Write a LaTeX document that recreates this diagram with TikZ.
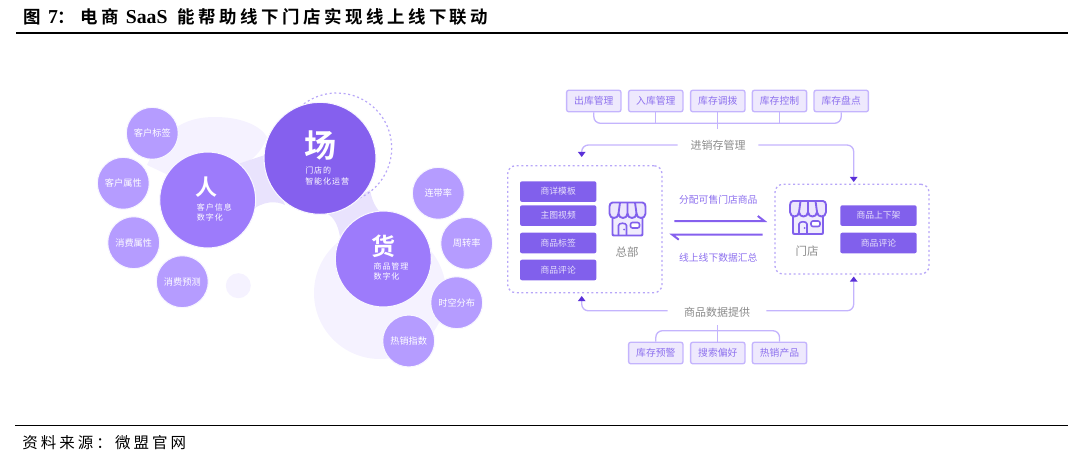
\documentclass[tikz,border=0pt]{standalone}
\usepackage{fontspec}
\setmainfont{Noto Sans CJK SC}
\newfontfamily\spc[LetterSpace=12]{Noto Sans CJK SC}
\newfontfamily\hd[LetterSpace=20]{Noto Sans CJK SC Bold}
\newfontfamily\gb{Noto Sans CJK SC Bold}
\newfontfamily\hl{Liberation Serif Bold}
\newfontfamily\ft[LetterSpace=20]{Noto Sans CJK SC}
\usetikzlibrary{arrows.meta}
\definecolor{pale}{HTML}{F5F2FF}
\definecolor{midpale}{HTML}{E9E3FD}
\definecolor{cA}{HTML}{8560EE}
\definecolor{cB}{HTML}{9D7BFB}
\definecolor{cC}{HTML}{B59CFF}
\definecolor{halo}{HTML}{F8F6FF}
\definecolor{bar}{HTML}{8160EC}
\definecolor{boxf}{HTML}{EEE9FD}
\definecolor{boxd}{HTML}{C4B4FD}
\definecolor{boxt}{HTML}{8D70EE}
\definecolor{tipc}{HTML}{5A30D8}
\definecolor{dots}{HTML}{B7A6F8}
\definecolor{greyt}{HTML}{8A8A8A}
\def\px{.75pt}
\tikzset{
  bigc/.style={circle,inner sep=0pt,minimum size=96*\px,fill=cB,draw=halo,line width=.8pt},
  smallc/.style={circle,inner sep=0pt,minimum size=52*\px,fill=cC,draw=halo,line width=.8pt,text=white,font=\fontsize{6.9pt}{8pt}\selectfont},
  sub/.style={anchor=west,inner sep=0pt,text=white,font=\fontsize{6pt}{7pt}\selectfont\spc},
  glyph/.style={inner sep=0pt,text=white},
  tagbox/.style={draw=boxd,fill=boxf,rounded corners=1.5pt,line width=1pt,inner sep=0pt,minimum width=54.3*\px,minimum height=21.4*\px,text=boxt,font=\fontsize{7.35pt}{9pt}\selectfont},
  barbox/.style={fill=bar,rounded corners=1.5pt,inner sep=0pt,minimum width=76.4*\px,minimum height=20.6*\px,text=white!80!bar,font=\fontsize{6.6pt}{8pt}\selectfont},
  dashbox/.style={draw=dots,dash pattern=on 1.5pt off 2pt,line width=1pt,rounded corners=6pt},
  link/.style={draw=boxd,line width=1pt,rounded corners=5pt},
  flow/.style={link,-{Triangle[color=tipc,length=3.8pt,width=5.5pt]}},
  harp/.style={draw=cA,line width=1.5pt,line join=miter},
  greylab/.style={text=greyt,inner sep=0pt,font=\fontsize{8.25pt}{10pt}\selectfont},
  purplab/.style={text=boxt,inner sep=0pt,font=\fontsize{7.35pt}{9pt}\selectfont},
  storeicon/.pic={
    \path[draw=bar,line width=1.4pt,line join=round,fill=white!88!bar]
      (3,15) -- (3,31) .. controls (3,33) and (3,33) .. (5,33) -- (31,33) .. controls (33,33) and (33,33) .. (33,31) -- (33,15);
    \path[draw=bar,line width=1.4pt,line join=round,fill=boxf!80!bar!50!white]
      (3,0) -- (33,0) .. controls (35,0) and (36,2) .. (36,4) -- (36,11)
      .. controls (36,17) and (27,17) .. (27,11)
      .. controls (27,17) and (18,17) .. (18,11)
      .. controls (18,17) and (9,17) .. (9,11)
      .. controls (9,17) and (0,17) .. (0,11)
      -- (0,4) .. controls (0,2) and (1,0) .. (3,0) -- cycle;
    \draw[bar,line width=1.4pt] (10.5,0) -- (9,11) (18,0) -- (18,11) (25.5,0) -- (27,11);
    \draw[bar,line width=1.2pt] (9,33) -- (9,23) .. controls (9,20) and (17,20) .. (17,23) -- (17,33);
    \draw[bar,line width=1.2pt,rounded corners=1.5pt,fill=white] (21,20) rectangle (30,25.5);
    \fill[bar] (14.5,27) circle (1);
  }
}
\begin{document}
\begin{tikzpicture}[x=.75pt,y=-.75pt]
\useasboundingbox (0,0) rectangle (1080,464);
% header and footer
\node[anchor=west,inner sep=0pt,font=\fontsize{13.1pt}{15pt}\selectfont] (title) at (23,17)
 {{\hd 图}\hspace{5.5pt}{\hl\fontsize{14.8pt}{15pt}\selectfont 7}{\hd ：}\hspace{4pt}{\hd 电商}\hspace{5pt}{\hl\fontsize{14.8pt}{15pt}\selectfont SaaS}\hspace{7.5pt}{\hd 能帮助线下门店实现线上线下联动}};
\coordinate (hl1) at (16,33); \coordinate (hl2) at (1068,33);
\draw[line width=1.1pt] (hl1) -- (hl2);
\coordinate (fl1) at (15,425.7); \coordinate (fl2) at (1068,425.7);
\draw[line width=1.1pt] (fl1) -- (fl2);
\node[anchor=west,inner sep=0pt,font=\fontsize{11.6pt}{13pt}\selectfont\ft] (source) at (22,442.7) {资料来源：微盟官网};

% pale backdrop
\fill[pale] (147,165) .. controls (165,125) and (190,117) .. (215,117) .. controls (240,117) and (260,125) .. (267,137) .. controls (262,152) and (250,163) .. (240,165) -- (200,190) -- cycle;
\fill[pale] (380,293) circle (66);
\fill[pale] (238.3,285.7) circle (12.5);
\fill[midpale] (240,163.3) -- (265,155) -- (285,205) .. controls (277,201) and (263,200) .. (250,212) -- cycle;
\fill[midpale] (326.7,213.3) .. controls (335,218) and (338,226) .. (340,236.7) -- (383,215) .. controls (375,208) and (372,200) .. (370,190) -- cycle;
\draw[dots,line width=.9pt,dash pattern=on 1.5pt off 2pt] (336.7,148) circle (55);

% big circles
\node[bigc] (ren) at (207.7,200) {};
\node[bigc,minimum size=112*\px,fill=cA] (chang) at (320,158.3) {};
\node[bigc] (huo) at (383.3,259) {};
\node[glyph,font=\fontsize{16.5pt}{18pt}\selectfont\gb] (renT) at (206.7,187) {人};
\node[sub] (renA) at (196.7,207) {客户信息};
\node[sub] (renB) at (196.7,217.7) {数字化};
\node[glyph,font=\fontsize{24pt}{26pt}\selectfont\gb] (changT) at (320.7,145.7) {场};
\node[sub] (changA) at (305,170.7) {门店的};
\node[sub] (changB) at (305,181.7) {智能化运营};
\node[glyph,font=\fontsize{18pt}{20pt}\selectfont\gb] (huoT) at (383.3,246) {货};
\node[sub] (huoA) at (373.3,266) {商品管理};
\node[sub] (huoB) at (373.3,276.7) {数字化};

% small circles
\node[smallc] (s1) at (152.3,133.3) {客户标签};
\node[smallc] (s2) at (123.3,183.3) {客户属性};
\node[smallc] (s3) at (133.7,242.7) {消费属性};
\node[smallc] (s4) at (182.3,281.7) {消费预测};
\node[smallc] (s5) at (438.3,193.3) {连带率};
\node[smallc] (s6) at (466.7,243.3) {周转率};
\node[smallc] (s7) at (456.7,302.7) {时空分布};
\node[smallc] (s8) at (408.7,341) {热销指数};

% top tags
\node[tagbox] (b1) at (593.8,101) {出库管理};
\node[tagbox] (b2) at (655.8,101) {入库管理};
\node[tagbox] (b3) at (717.8,101) {库存调拨};
\node[tagbox] (b4) at (779.5,101) {库存控制};
\node[tagbox] (b5) at (841.2,101) {库存盘点};
\node[greylab,minimum width=80*\px,minimum height=31*\px] (jxc) at (718,145) {进销存管理};
\coordinate (barT) at (718,123.3);
\draw[link] (b1.south) |- (barT) -| (b5.south);
\draw[draw=boxd,line width=1pt] (b2.south) -- (b2.south |- barT);
\draw[draw=boxd,line width=1pt] (b4.south) -- (b4.south |- barT);
\draw[draw=boxd,line width=1pt] (b3.south) -- (jxc.north -| b3.south);

% boxes
\node[dashbox,minimum width=154.3*\px,minimum height=127*\px] (hq) at (584.85,229.2) {};
\node[dashbox,minimum width=154*\px,minimum height=89.7*\px] (shop) at (852,229.15) {};
\node[barbox] (l1) at (558.2,191.6) {商详模板};
\node[barbox] (l2) at (558.2,215.6) {主图视频};
\node[barbox] (l3) at (558.2,243) {商品标签};
\node[barbox] (l4) at (558.2,270) {商品评论};
\node[barbox] (r1) at (878.5,215.6) {商品上下架};
\node[barbox] (r2) at (878.5,243) {商品评论};
\pic at (609.5,202.5) {storeicon};
\pic at (790,201) {storeicon};
\node[greylab,font=\fontsize{8.6pt}{10pt}\selectfont] (hqT) at (627,251.7) {总部};
\node[greylab,font=\fontsize{8.6pt}{10pt}\selectfont] (shopT) at (807,250.7) {门店};

% exchange arrows
\node[purplab] (fp) at (718.3,199.3) {分配可售门店商品};
\node[purplab] (hz) at (718.3,258) {线上线下数据汇总};
\coordinate (a1s) at (674.3,221); \coordinate (a1e) at (764.3,221);
\coordinate (a2s) at (762.7,234.7); \coordinate (a2e) at (672.3,234.7);
\draw[harp] (a1s) -- (a1e) -- ++(-6.5,-5);
\draw[harp] (a2s) -- (a2e) -- ++(6.5,5);

% flows from 进销存管理
\coordinate (t1) at (581.7,157); \coordinate (t2) at (853.7,182);
\draw[flow] (jxc.west) -| (t1);
\draw[flow] (jxc.east) -| (t2);

% lower labels
\node[greylab,minimum width=98*\px,minimum height=25*\px] (spg) at (717,312) {商品数据提供};
\coordinate (t3) at (581.7,296); \coordinate (t4) at (853.7,276.5);
\draw[flow] ([yshift=.9pt]spg.west) -| (t3);
\draw[flow] ([yshift=.9pt]spg.east) -| (t4);
\node[tagbox] (c1) at (655.8,353) {库存预警};
\node[tagbox] (c2) at (717.8,353) {搜索偏好};
\node[tagbox] (c3) at (779.5,353) {热销产品};
\coordinate (barB) at (718,330.7);
\draw[link] (c1.north) |- (barB) -| (c3.north);
\draw[draw=boxd,line width=1pt] (c2.north) -- (spg.south -| c2.north);
\end{tikzpicture}
\end{document}
